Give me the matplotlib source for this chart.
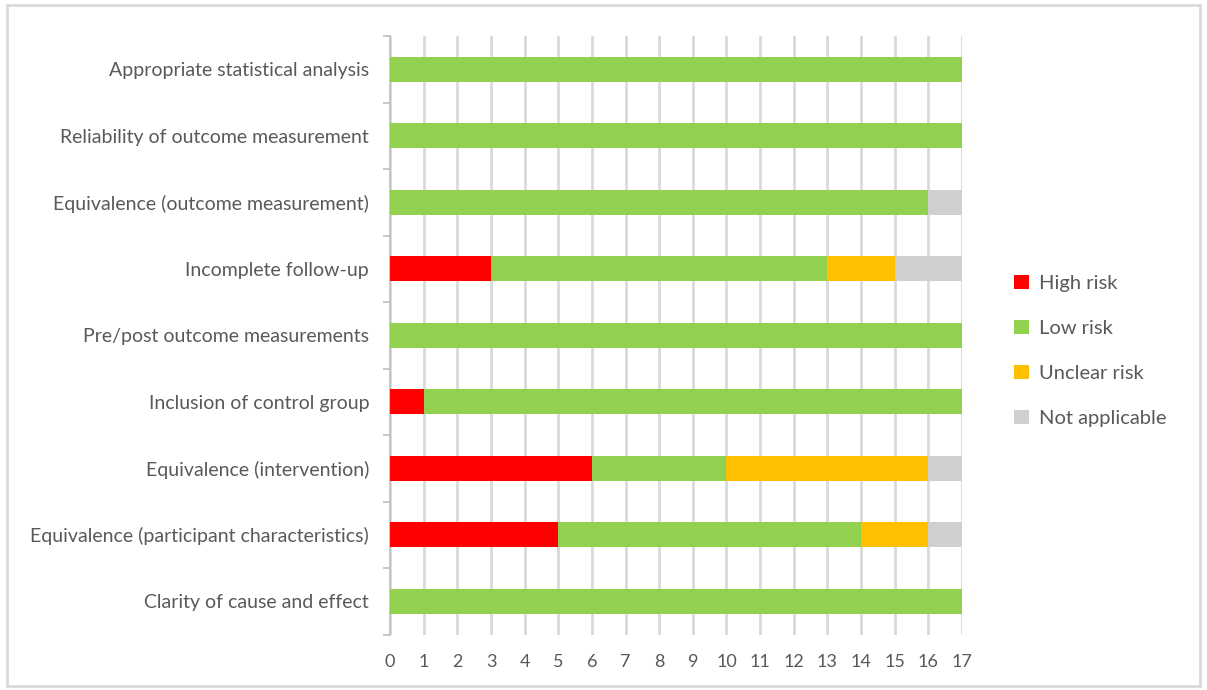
import matplotlib
matplotlib.use("Agg")
import matplotlib.pyplot as plt
from matplotlib.patches import Rectangle
import numpy as np

categories = [
    "Clarity of cause and effect",
    "Equivalence (participant characteristics)",
    "Equivalence (intervention)",
    "Inclusion of control group",
    "Pre/post outcome measurements",
    "Incomplete follow-up",
    "Equivalence (outcome measurement)",
    "Reliability of outcome measurement",
    "Appropriate statistical analysis",
]
high_risk = [0, 5, 6, 1, 0, 3, 0, 0, 0]
low_risk = [17, 9, 4, 16, 17, 10, 16, 17, 17]
unclear_risk = [0, 2, 6, 0, 0, 2, 0, 0, 0]
not_applicable = [0, 1, 1, 0, 0, 2, 1, 0, 0]

series_names = ["High risk", "Low risk", "Unclear risk", "Not applicable"]
colors = ["#FF0000", "#92D050", "#FFC000", "#D0CECE"]
xticks = list(range(0, 18))

plt.rcParams["font.family"] = ["Lato", "DejaVu Sans"]
text_color = "#595959"

fig = plt.figure(figsize=(12.07, 6.90), dpi=100)
ax = fig.add_axes([390/1207, 1-634.5/690, (962-390)/1207, 598.5/690])

y = np.arange(len(categories))
left = np.zeros(len(categories))
for name, vals, c in zip(series_names, [high_risk, low_risk, unclear_risk, not_applicable], colors):
    vals = np.array(vals, dtype=float)
    ax.barh(y, vals, left=left, height=0.38, color=c, label=name, zorder=3)
    left += vals

ax.set_xlim(0, 17)
ax.set_ylim(-0.5, len(categories) - 0.5)
ax.set_xticks(xticks)
ax.set_xticklabels([str(t) for t in xticks], color=text_color, fontsize=13)
ax.set_yticks(y)
ax.set_yticklabels(categories, color=text_color, fontsize=14)
ax.set_yticks(np.arange(-0.5, len(categories), 1.0), minor=True)
ax.tick_params(axis="y", which="major", length=0, pad=15)
ax.tick_params(axis="y", which="minor", length=5, color="#BFBFBF", width=1.2)
ax.tick_params(axis="x", length=0, pad=14)
ax.grid(axis="x", color="#D9D9D9", linewidth=2, zorder=0)
for s in ["top", "right", "bottom"]:
    ax.spines[s].set_visible(False)
ax.spines["left"].set_color("#BFBFBF")
ax.spines["left"].set_linewidth(1.2)

leg = ax.legend(loc="center left", bbox_to_anchor=(1.06, 0.474), frameon=False,
                fontsize=14.5, handlelength=0.7, handleheight=0.7,
                labelspacing=1.38, handletextpad=0.5)
for t in leg.get_texts():
    t.set_color(text_color)

fig.patches.append(Rectangle((7/1207, 1-686/690), 1193/1207, 681/690,
                             transform=fig.transFigure, fill=False,
                             edgecolor="#D9D9D9", linewidth=2))

fig.savefig("out.png", dpi=100)
